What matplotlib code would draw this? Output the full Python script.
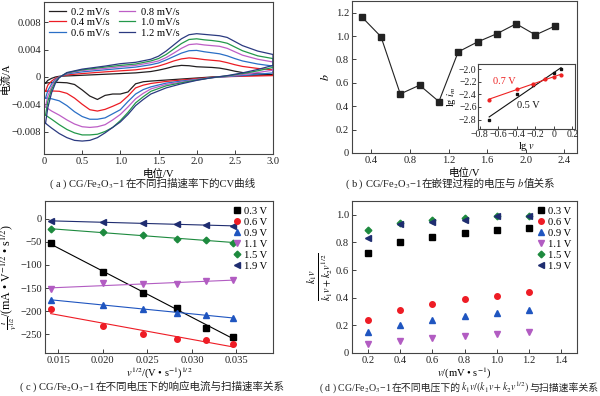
import numpy as np
import matplotlib
matplotlib.use('Agg')
import matplotlib.pyplot as plt
from matplotlib.offsetbox import TextArea, HPacker, AnchoredOffsetbox

FAM = ['Liberation Serif', 'Noto Sans CJK SC']
plt.rcParams['font.family'] = FAM
plt.rcParams['mathtext.fontset'] = 'stix'
plt.rcParams['axes.unicode_minus'] = True
FS = 7.6

# ---------------- Panel (a) CV data (current in mA) ----------------
rate_labels = ['0.2 mV/s', '0.4 mV/s', '0.6 mV/s', '0.8 mV/s', '1.0 mV/s', '1.2 mV/s']
v_up = [0.02, 0.05, 0.1, 0.15, 0.2, 0.3, 0.5, 0.8, 1.0, 1.2, 1.4, 1.5, 1.6, 1.7,
        1.8, 1.9, 2.0, 2.1, 2.2, 2.3, 2.4, 2.5, 2.6, 2.8, 3.0]
v_dn = [3.0, 2.8, 2.6, 2.4, 2.2, 2.0, 1.8, 1.6, 1.4, 1.3, 1.2, 1.1, 1.0, 0.9,
        0.8, 0.7, 0.6, 0.5, 0.4, 0.3, 0.2, 0.1, 0.02]
i_up_02 = [-0.9, -0.5, -0.2, 0.0, 0.1, 0.15, 0.25, 0.4, 0.5, 0.6, 0.8, 1.0, 1.25, 1.55,
           1.7, 1.65, 1.5, 1.45, 1.4, 1.3, 1.1, 0.85, 0.65, 0.45, 0.35]
i_up_04 = [-2.1, -1.2, -0.6, -0.2, 0.05, 0.3, 0.5, 0.75, 0.9, 1.05, 1.35, 1.6, 1.95, 2.35,
           2.65, 2.8, 2.7, 2.55, 2.45, 2.35, 2.1, 1.8, 1.55, 1.25, 1.05]
i_up_06 = [-3.1, -2.0, -1.0, -0.35, 0.0, 0.45, 0.75, 1.05, 1.25, 1.45, 1.8, 2.05, 2.5, 3.0,
           3.5, 3.85, 3.9, 3.7, 3.55, 3.4, 3.1, 2.7, 2.35, 1.9, 1.6]
i_up_08 = [-4.4, -2.8, -1.4, -0.5, 0.0, 0.55, 0.95, 1.25, 1.5, 1.7, 2.1, 2.35, 2.85, 3.5,
           4.2, 4.75, 4.85, 4.7, 4.6, 4.5, 4.2, 3.7, 3.2, 2.6, 2.2]
i_up_10 = [-5.6, -3.6, -1.8, -0.7, -0.05, 0.6, 1.05, 1.45, 1.7, 1.9, 2.35, 2.7, 3.3, 4.1,
           4.9, 5.5, 5.6, 5.45, 5.35, 5.2, 4.95, 4.4, 3.85, 3.1, 2.7]
i_up_12 = [-6.8, -4.5, -2.3, -0.9, -0.1, 0.65, 1.15, 1.6, 1.95, 2.15, 2.6, 3.05, 3.8, 4.7,
           5.6, 6.2, 6.35, 6.25, 6.15, 6.05, 5.8, 5.2, 4.6, 3.8, 3.3]
i_dn_02 = [0.3, 0.25, 0.2, 0.1, 0.0, -0.15, -0.3, -0.45, -0.6, -0.7, -1.0, -2.2, -2.5, -2.5,
           -2.7, -3.3, -2.8, -1.9, -1.1, -0.85, -0.8, -0.8, -0.9]
i_dn_04 = [0.2, 0.15, 0.1, 0.05, -0.05, -0.25, -0.45, -0.65, -0.95, -1.2, -1.6, -2.8, -3.8, -4.3,
           -4.75, -5.0, -4.8, -4.0, -3.1, -2.4, -2.1, -2.05, -2.1]
i_dn_06 = [0.6, 0.4, 0.2, 0.05, -0.1, -0.35, -0.6, -0.9, -1.45, -1.85, -2.5, -3.6, -4.8, -5.4,
           -6.0, -6.2, -6.2, -5.8, -5.1, -4.2, -3.5, -3.2, -3.1]
i_dn_08 = [1.0, 0.65, 0.35, 0.1, -0.1, -0.4, -0.75, -1.1, -1.75, -2.4, -3.2, -4.4, -5.5, -6.3,
           -7.0, -7.3, -7.4, -7.3, -6.9, -6.3, -5.6, -5.0, -4.4]
i_dn_10 = [1.4, 0.9, 0.5, 0.15, -0.1, -0.45, -0.85, -1.3, -2.1, -2.9, -3.8, -5.2, -6.4, -7.4,
           -8.0, -8.4, -8.5, -8.5, -8.2, -7.7, -7.0, -6.2, -5.6]
i_dn_12 = [1.7, 1.1, 0.6, 0.2, -0.1, -0.5, -1.0, -1.6, -2.5, -3.3, -4.2, -5.5, -6.6, -7.4,
           -8.2, -8.9, -9.3, -9.4, -9.3, -8.9, -8.3, -7.5, -6.8]
cv_colors = ['#231f20', '#ec1c24', '#2a6fc6', '#bd5ec6', '#23984a', '#2b3a80']

# ---------------- Panel (b) b-values ----------------
b_potential = [0.3, 0.5, 0.7, 0.9, 1.1, 1.3, 1.5, 1.7, 1.9, 2.1, 2.3]
b_value = [1.165, 0.995, 0.505, 0.58, 0.44, 0.865, 0.95, 1.02, 1.105, 1.01, 1.085]
lgv_05 = [-0.699, -0.398, -0.222, 0.0, 0.079]
lgi_05 = [-2.80, -2.40, -2.26, -2.07, -2.00]
lgv_07 = [-0.699, -0.398, -0.222, -0.097, 0.0, 0.079]
lgi_07 = [-2.49, -2.31, -2.23, -2.16, -2.12, -2.10]

# ---------------- Panel (c) ----------------
sqrt_v = [0.01414, 0.02, 0.02449, 0.02828, 0.03162, 0.03464]
volt_labels = ['0.3 V', '0.6 V', '0.9 V', '1.1 V', '1.5 V', '1.9 V']
c_03 = [-53, -115, -160, -193, -235, -255]
c_06 = [-195, -232, -250, -260, -263, -270]
c_09 = [-175, -187, -194, -203, -209, -214]
c_11 = [-152, -140, -141, -141, -134, -133]
c_15 = [-23, -29, -36, -43, -47, -52]
c_19 = [-5, -8, -10, -12, -14, -16]

# ---------------- Panel (d) ----------------
scan_rate = [0.2, 0.4, 0.6, 0.8, 1.0, 1.2]
d_03 = [0.725, 0.80, 0.843, 0.87, 0.888, 0.905]
d_06 = [0.24, 0.31, 0.355, 0.39, 0.415, 0.438]
d_09 = [0.155, 0.205, 0.242, 0.27, 0.292, 0.31]
d_11 = [0.065, 0.09, 0.11, 0.125, 0.138, 0.15]
d_15 = [0.888, 0.94, 0.965, 0.98, 0.99, 0.993]
d_19 = [0.83, 0.935, 0.945, 0.965, 0.99, 0.99]

mk_colors = ['#000000', '#ee1c25', '#1f55c0', '#b25cc2', '#1d8a3e', '#1f2d70']
mk_shapes = ['s', 'o', '^', 'v', 'D', '<']

fig = plt.figure(figsize=(6.0, 3.96), dpi=100)

def style(ax, fs=FS):
    for s in ax.spines.values():
        s.set_color('#444444')
        s.set_linewidth(0.8)
    ax.tick_params(direction='in', length=3, width=0.6, labelsize=fs, pad=2,
                   colors='#222222')

def caption(x, y, parts, fs=7.6):
    boxes = [TextArea(p, textprops=dict(fontsize=fs, family=FAM, color='#222222'))
             for p in parts]
    pack = HPacker(children=boxes, align='baseline', pad=0, sep=0)
    ab = AnchoredOffsetbox(loc='center', child=pack, pad=0, borderpad=0, frameon=False,
                           bbox_to_anchor=(x, y), bbox_transform=fig.transFigure)
    fig.add_artist(ab)

# ---- (a)
axa = fig.add_axes([44/600, 1-154/396, 229/600, 152/396])
ups = [i_up_02, i_up_04, i_up_06, i_up_08, i_up_10, i_up_12]
dns = [i_dn_02, i_dn_04, i_dn_06, i_dn_08, i_dn_10, i_dn_12]
for lab, col, iu, idn in zip(rate_labels, cv_colors, ups, dns):
    vv = np.array(v_up + v_dn)
    ii = np.array(iu + idn) * 1e-3
    axa.plot(vv, ii, color=col, lw=0.9, label=lab)
axa.set_xlim(0, 3.0)
axa.set_ylim(-0.0113, 0.011)
axa.set_xticks([0, 0.5, 1.0, 1.5, 2.0, 2.5, 3.0])
axa.set_xticklabels(['0', '0.5', '1.0', '1.5', '2.0', '2.5', '3.0'])
axa.set_yticks([-0.008, -0.004, 0, 0.004, 0.008])
axa.set_yticklabels(['−0.008', '−0.004', '0', '0.004', '0.008'])
axa.set_xlabel('电位/V', fontsize=FS, labelpad=2)
axa.set_ylabel('电流/A', fontsize=FS, labelpad=1)
style(axa)
axa.legend(ncol=2, loc='upper left', bbox_to_anchor=(0, 1), frameon=False, fontsize=FS,
           handlelength=1.6, handletextpad=0.5, columnspacing=0.8, labelspacing=0.1,
           borderaxespad=0.2, borderpad=0.3)

# ---- (b)
axb = fig.add_axes([352/600, 1-153/396, 225/600, 152/396])
axb.plot(b_potential, b_value, color='#222222', lw=0.8, marker='s', ms=3.8)
axb.set_xlim(0.2, 2.53)
axb.set_ylim(0, 1.3)
axb.set_xticks([0.4, 0.8, 1.2, 1.6, 2.0, 2.4])
axb.set_xticklabels(['0.4', '0.8', '1.2', '1.6', '2.0', '2.4'])
axb.set_yticks([0, 0.2, 0.4, 0.6, 0.8, 1.0, 1.2])
axb.set_yticklabels(['0', '0.2', '0.4', '0.6', '0.8', '1.0', '1.2'])
axb.set_xlabel('电位/V', fontsize=FS, labelpad=2)
axb.set_ylabel('$b$', fontsize=FS + 1, labelpad=3)
style(axb)

axi = fig.add_axes([478/600, 1-129/396, 97/600, 65/396])
for xs, ys, col, mk, ms in [(lgv_05, lgi_05, '#111111', 's', 2.0),
                            (lgv_07, lgi_07, '#ee2222', 'o', 2.0)]:
    axi.plot(xs, ys, ls='none', marker=mk, ms=ms, color=col)
    k, b0 = np.polyfit(xs, ys, 1)
    xf = np.array([xs[0], xs[-1]])
    axi.plot(xf, k * xf + b0, color=col, lw=0.8)
axi.set_xlim(-0.82, 0.23)
axi.set_ylim(-2.95, -1.92)
axi.set_xticks([-0.8, -0.6, -0.4, -0.2, 0, 0.2])
axi.set_xticklabels(['−0.8', '−0.6', '−0.4', '−0.2', '0', '0.2'])
axi.set_yticks([-2.8, -2.6, -2.4, -2.2, -2.0])
axi.set_yticklabels(['−2.8', '−2.6', '−2.4', '−2.2', '−2.0'])
axi.set_xlabel('lg $v$', fontsize=7.4, labelpad=0.5)
axi.set_ylabel('lg $i_m$', fontsize=7.4, labelpad=0.5)
style(axi, fs=7.0)
axi.tick_params(length=2, pad=1)
axi.text(-0.66, -2.19, '0.7 V', color='#ee2222', fontsize=7.4, va='center')
axi.text(-0.40, -2.57, '0.5 V', color='#111111', fontsize=7.4, va='center')

# ---- (c)
axc = fig.add_axes([45/600, 1-353/396, 228/600, 152/396])
cs = [c_03, c_06, c_09, c_11, c_15, c_19]
handles = []
for lab, col, mk, ys in zip(volt_labels, mk_colors, mk_shapes, cs):
    k, b0 = np.polyfit(sqrt_v, ys, 1)
    xf = np.array([sqrt_v[0], sqrt_v[-1]])
    axc.plot(xf, k * xf + b0, color=col, lw=0.8)
    h, = axc.plot(sqrt_v, ys, ls='none', marker=mk, ms=4.0 if mk != 'D' else 3.4,
                  color=col, label=lab)
    handles.append(h)
axc.set_xlim(0.0135, 0.0391)
axc.set_ylim(-290, 38)
axc.set_xticks([0.015, 0.020, 0.025, 0.030, 0.035])
axc.set_xticklabels(['0.015', '0.020', '0.025', '0.030', '0.035'])
axc.set_yticks([0, -50, -100, -150, -200, -250])
axc.set_yticklabels(['0', '−50', '−100', '−150', '−200', '−250'])
axc.set_xlabel(r'$v^{1/2}$/(V • s$^{-1}$)$^{1/2}$', fontsize=FS, labelpad=1)
axc.set_ylabel(r'$\frac{i}{v^{1/2}}$/(mA • V$^{-1/2}$ • s$^{1/2}$)', fontsize=8.6, labelpad=0)
style(axc)
axc.legend(handles=handles, loc='upper right', frameon=False, fontsize=FS,
           handlelength=0.8, handletextpad=0.3, labelspacing=0.15, borderaxespad=0.2,
           borderpad=0.3, numpoints=1)

# ---- (d)
axd = fig.add_axes([352/600, 1-353/396, 225/600, 152/396])
ds = [d_03, d_06, d_09, d_11, d_15, d_19]
for lab, col, mk, ys in zip(volt_labels, mk_colors, mk_shapes, ds):
    axd.plot(scan_rate, ys, ls='none', marker=mk, ms=4.0 if mk != 'D' else 3.4,
             color=col, label=lab)
axd.set_xlim(0.1, 1.5)
axd.set_ylim(0, 1.1)
axd.set_xticks([0.2, 0.4, 0.6, 0.8, 1.0, 1.2, 1.4])
axd.set_xticklabels(['0.2', '0.4', '0.6', '0.8', '1.0', '1.2', '1.4'])
axd.set_yticks([0, 0.2, 0.4, 0.6, 0.8, 1.0])
axd.set_yticklabels(['0', '0.2', '0.4', '0.6', '0.8', '1.0'])
axd.set_xlabel(r'$v$/(mV • s$^{-1}$)', fontsize=FS, labelpad=1)
axd.set_ylabel(r'$\frac{k_1 v}{k_1 v+k_2 v^{1/2}}$', fontsize=10.5, labelpad=1)
style(axd)
axd.legend(loc='upper right', frameon=False, fontsize=FS, handlelength=0.8,
           handletextpad=0.3, labelspacing=0.15, borderaxespad=0.2, borderpad=0.3,
           numpoints=1)

# ---- captions
caption(152/600, 1-184/396, ['( a ) CG/Fe$_2$O$_3$−1', '在不同扫描速率下的CV曲线'])
caption(450/600, 1-184/396, ['( b ) CG/Fe$_2$O$_3$−1', '在嵌锂过程的电压与', '$b$', '值关系'])
caption(152/600, 1-387/396, ['( c ) CG/Fe$_2$O$_3$−1', '在不同电压下的响应电流与扫描速率关系'])
caption(459/600, 1-387/396, ['( d ) CG/Fe$_2$O$_3$−1', '在不同电压下的',
                             r'$k_1v/(k_1v+k_2v^{1/2})$', '与扫描速率关系'], fs=7.1)

fig.savefig('out.png', dpi=100)
